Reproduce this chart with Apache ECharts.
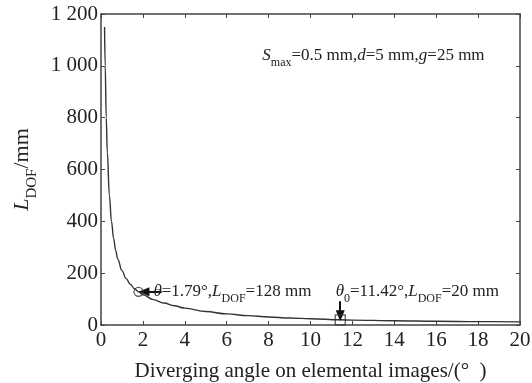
<!DOCTYPE html>
<html>
<head>
<meta charset="utf-8">
<script src="https://cdn.jsdelivr.net/npm/echarts@6/dist/echarts.min.js"></script>
<style>
  html, body { margin: 0; padding: 0; background: #fff; }
  #app { width: 532px; height: 383px; }
</style>
</head>
<body>
<div id="app"></div>
<script>
// diverging angle (deg) and depth of field (mm)
const angles = [0.17, 0.2, 0.25, 0.3, 0.4, 0.5, 0.6, 0.7, 0.8, 1.0, 1.2, 1.4, 1.6, 1.79, 2, 2.5, 3, 3.5, 4, 5, 6, 7, 8, 9, 10, 11.42, 12, 14, 16, 18, 20];
const depths = [1150, 1000, 800, 667, 500, 400, 335, 288, 254, 210, 179, 157, 140, 128, 117, 98, 85, 74, 65, 52, 43, 36, 31, 27, 24, 20, 19, 16.5, 14.5, 13, 12];
const pointA = [1.79, 128];
const pointB = [11.42, 20];
const xTicks = {min: 0, max: 20, interval: 2};
const yTicks = {min: 0, max: 1200, interval: 200};

const FONT = '"Liberation Serif", "DejaVu Serif", serif';
const INK = '#222';
const chart = echarts.init(document.getElementById('app'), null, {renderer: 'canvas'});

const rich = {
    n: {fontFamily: FONT, fontSize: 17, color: INK},
    i: {fontFamily: FONT, fontSize: 17, color: INK, fontStyle: 'italic'},
    s: {fontFamily: FONT, fontSize: 12, color: INK, verticalAlign: 'bottom', padding: [0, 0, -5, 0]}
};

const fmtY = v => v >= 1000 ? String(v).replace(/(\d)(\d{3})$/, '$1 $2') : String(v);

const sideAxis = (extra) => Object.assign({
    axisLine: {show: true, onZero: false, lineStyle: {color: '#444', width: 1.5}},
    axisTick: {show: true, inside: true, length: 4, lineStyle: {color: '#444'}},
    splitLine: {show: false}
}, extra);

const option = {
    animation: false,
    backgroundColor: '#fff',
    grid: {left: 101, right: 12, top: 14, bottom: 58, containLabel: false, outerBoundsMode: 'none'},
    xAxis: [
        sideAxis({
            type: 'value', ...xTicks, position: 'bottom',
            axisLabel: {fontFamily: FONT, fontSize: 21, color: INK, margin: 5},
            name: 'Diverging angle on elemental images/(°  )',
            nameLocation: 'middle', nameGap: 36,
            nameTextStyle: {fontFamily: FONT, fontSize: 21, color: INK}
        }),
        sideAxis({type: 'value', ...xTicks, position: 'top', axisLabel: {show: false}})
    ],
    yAxis: [
        sideAxis({
            type: 'value', ...yTicks, position: 'left',
            axisLabel: {fontFamily: FONT, fontSize: 21, color: INK, margin: 3, formatter: fmtY},
            name: '{i|L}{s|DOF}{n|/mm}',
            nameLocation: 'middle', nameGap: 66, nameRotate: 90,
            nameTextStyle: {
                rich: {
                    n: {fontFamily: FONT, fontSize: 22, color: INK},
                    i: {fontFamily: FONT, fontSize: 22, color: INK, fontStyle: 'italic'},
                    s: {fontFamily: FONT, fontSize: 15, color: INK, verticalAlign: 'bottom', padding: [0, 0, -7, 0]}
                }
            }
        }),
        sideAxis({type: 'value', ...yTicks, position: 'right', axisLabel: {show: false}})
    ],
    series: [
        {
            type: 'line',
            data: angles.map((a, k) => [a, depths[k]]),
            showSymbol: false,
            smooth: 0.4,
            smoothMonotone: 'x',
            lineStyle: {color: '#333', width: 1.4},
            markPoint: {
                silent: true,
                data: [
                    {coord: [2.5, 128], symbolSize: 0,
                        label: {show: true, position: 'right', distance: 0, rich,
                            formatter: '{i|θ}{n|=1.79°,}{i|L}{s|DOF}{n|=128 mm}'}},
                    {coord: [11.2, 128], symbolSize: 0,
                        label: {show: true, position: 'right', distance: 0, rich,
                            formatter: '{i|θ}{s|0}{n|=11.42°,}{i|L}{s|DOF}{n|=20 mm}'}},
                    {coord: [7.7, 1040], symbolSize: 0,
                        label: {show: true, position: 'right', distance: 0, rich,
                            formatter: '{i|S}{s|max}{n|=0.5 mm,}{i|d}{n|=5 mm,}{i|g}{n|=25 mm}'}}
                ]
            },
            markLine: {
                silent: true,
                symbol: ['none', 'triangle'],
                symbolSize: [9, 11],
                lineStyle: {color: '#111', width: 2, type: 'solid'},
                label: {show: false},
                data: [
                    [{coord: [2.9, 128], symbol: 'none'}, {coord: [2.05, 128], symbol: 'triangle', symbolRotate: 90}],
                    [{coord: [11.42, 92], symbol: 'none'}, {coord: [11.42, 36], symbol: 'triangle', symbolRotate: 180}]
                ]
            }
        },
        {
            type: 'scatter',
            data: [pointA],
            symbol: 'circle',
            symbolSize: 9,
            itemStyle: {color: 'transparent', borderColor: '#333', borderWidth: 1.3},
            z: 5
        },
        {
            type: 'scatter',
            data: [pointB],
            symbol: 'rect',
            symbolSize: 10,
            itemStyle: {color: 'transparent', borderColor: '#333', borderWidth: 1.3},
            z: 5
        }
    ]
};

chart.setOption(option);
addEventListener('resize', () => chart.resize());
</script>
</body>
</html>
